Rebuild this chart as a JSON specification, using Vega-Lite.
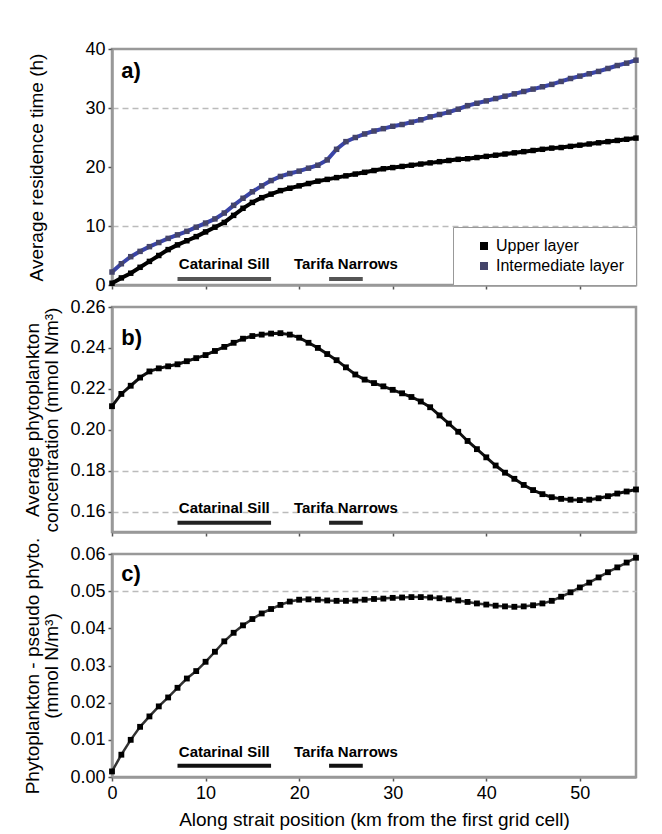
{
  "$schema": "https://vega.github.io/schema/vega-lite/v6.json",
  "background": "white",
  "padding": {"left": 22, "top": 38, "right": 20, "bottom": 4},
  "bounds": "flush",
  "spacing": 22,
  "resolve": {"legend": {"fill": "independent"}},
  "datasets": {
    "a": [
      {"km":0,"layer":"Upper layer","h":0.3},{"km":1,"layer":"Upper layer","h":1.2},{"km":2,"layer":"Upper layer","h":2.0},{"km":3,"layer":"Upper layer","h":3.0},{"km":4,"layer":"Upper layer","h":4.0},{"km":5,"layer":"Upper layer","h":5.0},{"km":6,"layer":"Upper layer","h":6.0},{"km":7,"layer":"Upper layer","h":6.8},{"km":8,"layer":"Upper layer","h":7.5},{"km":9,"layer":"Upper layer","h":8.2},{"km":10,"layer":"Upper layer","h":9.0},{"km":11,"layer":"Upper layer","h":9.8},{"km":12,"layer":"Upper layer","h":10.6},{"km":13,"layer":"Upper layer","h":11.8},{"km":14,"layer":"Upper layer","h":13.0},{"km":15,"layer":"Upper layer","h":14.0},{"km":16,"layer":"Upper layer","h":14.8},{"km":17,"layer":"Upper layer","h":15.4},{"km":18,"layer":"Upper layer","h":16.0},{"km":19,"layer":"Upper layer","h":16.4},{"km":20,"layer":"Upper layer","h":16.8},{"km":21,"layer":"Upper layer","h":17.2},{"km":22,"layer":"Upper layer","h":17.6},{"km":23,"layer":"Upper layer","h":17.9},{"km":24,"layer":"Upper layer","h":18.2},{"km":25,"layer":"Upper layer","h":18.5},{"km":26,"layer":"Upper layer","h":18.8},{"km":27,"layer":"Upper layer","h":19.1},{"km":28,"layer":"Upper layer","h":19.4},{"km":29,"layer":"Upper layer","h":19.7},{"km":30,"layer":"Upper layer","h":19.9},{"km":31,"layer":"Upper layer","h":20.1},{"km":32,"layer":"Upper layer","h":20.3},{"km":33,"layer":"Upper layer","h":20.5},{"km":34,"layer":"Upper layer","h":20.7},{"km":35,"layer":"Upper layer","h":20.9},{"km":36,"layer":"Upper layer","h":21.1},{"km":37,"layer":"Upper layer","h":21.3},{"km":38,"layer":"Upper layer","h":21.4},{"km":39,"layer":"Upper layer","h":21.6},{"km":40,"layer":"Upper layer","h":21.8},{"km":41,"layer":"Upper layer","h":22.0},{"km":42,"layer":"Upper layer","h":22.2},{"km":43,"layer":"Upper layer","h":22.4},{"km":44,"layer":"Upper layer","h":22.6},{"km":45,"layer":"Upper layer","h":22.8},{"km":46,"layer":"Upper layer","h":23.0},{"km":47,"layer":"Upper layer","h":23.2},{"km":48,"layer":"Upper layer","h":23.3},{"km":49,"layer":"Upper layer","h":23.5},{"km":50,"layer":"Upper layer","h":23.7},{"km":51,"layer":"Upper layer","h":23.9},{"km":52,"layer":"Upper layer","h":24.1},{"km":53,"layer":"Upper layer","h":24.3},{"km":54,"layer":"Upper layer","h":24.5},{"km":55,"layer":"Upper layer","h":24.7},{"km":56,"layer":"Upper layer","h":24.9},
      {"km":0,"layer":"Intermediate layer","h":2.2},{"km":1,"layer":"Intermediate layer","h":3.6},{"km":2,"layer":"Intermediate layer","h":4.8},{"km":3,"layer":"Intermediate layer","h":5.7},{"km":4,"layer":"Intermediate layer","h":6.5},{"km":5,"layer":"Intermediate layer","h":7.2},{"km":6,"layer":"Intermediate layer","h":7.9},{"km":7,"layer":"Intermediate layer","h":8.5},{"km":8,"layer":"Intermediate layer","h":9.1},{"km":9,"layer":"Intermediate layer","h":9.8},{"km":10,"layer":"Intermediate layer","h":10.5},{"km":11,"layer":"Intermediate layer","h":11.2},{"km":12,"layer":"Intermediate layer","h":12.2},{"km":13,"layer":"Intermediate layer","h":13.5},{"km":14,"layer":"Intermediate layer","h":14.7},{"km":15,"layer":"Intermediate layer","h":15.8},{"km":16,"layer":"Intermediate layer","h":16.8},{"km":17,"layer":"Intermediate layer","h":17.7},{"km":18,"layer":"Intermediate layer","h":18.4},{"km":19,"layer":"Intermediate layer","h":18.9},{"km":20,"layer":"Intermediate layer","h":19.3},{"km":21,"layer":"Intermediate layer","h":19.8},{"km":22,"layer":"Intermediate layer","h":20.3},{"km":23,"layer":"Intermediate layer","h":21.2},{"km":24,"layer":"Intermediate layer","h":23.0},{"km":25,"layer":"Intermediate layer","h":24.3},{"km":26,"layer":"Intermediate layer","h":25.0},{"km":27,"layer":"Intermediate layer","h":25.6},{"km":28,"layer":"Intermediate layer","h":26.1},{"km":29,"layer":"Intermediate layer","h":26.5},{"km":30,"layer":"Intermediate layer","h":26.9},{"km":31,"layer":"Intermediate layer","h":27.2},{"km":32,"layer":"Intermediate layer","h":27.6},{"km":33,"layer":"Intermediate layer","h":28.0},{"km":34,"layer":"Intermediate layer","h":28.5},{"km":35,"layer":"Intermediate layer","h":28.9},{"km":36,"layer":"Intermediate layer","h":29.3},{"km":37,"layer":"Intermediate layer","h":29.8},{"km":38,"layer":"Intermediate layer","h":30.4},{"km":39,"layer":"Intermediate layer","h":30.8},{"km":40,"layer":"Intermediate layer","h":31.2},{"km":41,"layer":"Intermediate layer","h":31.6},{"km":42,"layer":"Intermediate layer","h":32.0},{"km":43,"layer":"Intermediate layer","h":32.4},{"km":44,"layer":"Intermediate layer","h":32.8},{"km":45,"layer":"Intermediate layer","h":33.2},{"km":46,"layer":"Intermediate layer","h":33.6},{"km":47,"layer":"Intermediate layer","h":34.0},{"km":48,"layer":"Intermediate layer","h":34.5},{"km":49,"layer":"Intermediate layer","h":35.0},{"km":50,"layer":"Intermediate layer","h":35.4},{"km":51,"layer":"Intermediate layer","h":35.8},{"km":52,"layer":"Intermediate layer","h":36.2},{"km":53,"layer":"Intermediate layer","h":36.7},{"km":54,"layer":"Intermediate layer","h":37.2},{"km":55,"layer":"Intermediate layer","h":37.6},{"km":56,"layer":"Intermediate layer","h":38.1}
    ],
    "b": [
      {"km":0,"phyto":0.2115},{"km":1,"phyto":0.2175},{"km":2,"phyto":0.2215},{"km":3,"phyto":0.2255},{"km":4,"phyto":0.2285},{"km":5,"phyto":0.2300},{"km":6,"phyto":0.2310},{"km":7,"phyto":0.2320},{"km":8,"phyto":0.2335},{"km":9,"phyto":0.2350},{"km":10,"phyto":0.2365},{"km":11,"phyto":0.2385},{"km":12,"phyto":0.2405},{"km":13,"phyto":0.2425},{"km":14,"phyto":0.2445},{"km":15,"phyto":0.2458},{"km":16,"phyto":0.2465},{"km":17,"phyto":0.2470},{"km":18,"phyto":0.2472},{"km":19,"phyto":0.2465},{"km":20,"phyto":0.2450},{"km":21,"phyto":0.2425},{"km":22,"phyto":0.2400},{"km":23,"phyto":0.2370},{"km":24,"phyto":0.2340},{"km":25,"phyto":0.2305},{"km":26,"phyto":0.2270},{"km":27,"phyto":0.2245},{"km":28,"phyto":0.2228},{"km":29,"phyto":0.2212},{"km":30,"phyto":0.2195},{"km":31,"phyto":0.2178},{"km":32,"phyto":0.2160},{"km":33,"phyto":0.2138},{"km":34,"phyto":0.2110},{"km":35,"phyto":0.2070},{"km":36,"phyto":0.2030},{"km":37,"phyto":0.1990},{"km":38,"phyto":0.1945},{"km":39,"phyto":0.1905},{"km":40,"phyto":0.1865},{"km":41,"phyto":0.1825},{"km":42,"phyto":0.1790},{"km":43,"phyto":0.1760},{"km":44,"phyto":0.1730},{"km":45,"phyto":0.1705},{"km":46,"phyto":0.1685},{"km":47,"phyto":0.1670},{"km":48,"phyto":0.1662},{"km":49,"phyto":0.1658},{"km":50,"phyto":0.1656},{"km":51,"phyto":0.1658},{"km":52,"phyto":0.1665},{"km":53,"phyto":0.1675},{"km":54,"phyto":0.1688},{"km":55,"phyto":0.1698},{"km":56,"phyto":0.1708}
    ],
    "c": [
      {"km":0,"diff":0.0015},{"km":1,"diff":0.0060},{"km":2,"diff":0.0100},{"km":3,"diff":0.0135},{"km":4,"diff":0.0163},{"km":5,"diff":0.0190},{"km":6,"diff":0.0214},{"km":7,"diff":0.0240},{"km":8,"diff":0.0265},{"km":9,"diff":0.0285},{"km":10,"diff":0.0310},{"km":11,"diff":0.0337},{"km":12,"diff":0.0365},{"km":13,"diff":0.0388},{"km":14,"diff":0.0408},{"km":15,"diff":0.0425},{"km":16,"diff":0.0440},{"km":17,"diff":0.0452},{"km":18,"diff":0.0463},{"km":19,"diff":0.0472},{"km":20,"diff":0.0477},{"km":21,"diff":0.0478},{"km":22,"diff":0.0477},{"km":23,"diff":0.0475},{"km":24,"diff":0.0474},{"km":25,"diff":0.0474},{"km":26,"diff":0.0475},{"km":27,"diff":0.0477},{"km":28,"diff":0.0479},{"km":29,"diff":0.0480},{"km":30,"diff":0.0482},{"km":31,"diff":0.0483},{"km":32,"diff":0.0484},{"km":33,"diff":0.0484},{"km":34,"diff":0.0483},{"km":35,"diff":0.0481},{"km":36,"diff":0.0478},{"km":37,"diff":0.0475},{"km":38,"diff":0.0471},{"km":39,"diff":0.0467},{"km":40,"diff":0.0464},{"km":41,"diff":0.0461},{"km":42,"diff":0.0459},{"km":43,"diff":0.0458},{"km":44,"diff":0.0459},{"km":45,"diff":0.0462},{"km":46,"diff":0.0467},{"km":47,"diff":0.0474},{"km":48,"diff":0.0485},{"km":49,"diff":0.0497},{"km":50,"diff":0.0510},{"km":51,"diff":0.0523},{"km":52,"diff":0.0537},{"km":53,"diff":0.0551},{"km":54,"diff":0.0564},{"km":55,"diff":0.0577},{"km":56,"diff":0.0590}
    ],
    "features": [
      {"feature":"Catarinal Sill","start":7,"end":17,"mid":12},
      {"feature":"Tarifa Narrows","start":23.2,"end":26.8,"mid":25}
    ]
  },
  "vconcat": [
    {
      "width": 524, "height": 236,
      "layer": [
        {
          "data": {"name": "a"},
          "transform": [{"filter": "datum.layer == 'Intermediate layer'"}],
          "mark": {"type": "line", "strokeWidth": 4, "color": "#3a44a8"},
          "encoding": {
            "x": {"field": "km", "type": "quantitative", "scale": {"domain": [0, 56], "nice": false, "zero": false},
                  "axis": {"values": [0,10,20,30,40,50], "tickCount": 10, "labels": false, "title": null, "grid": false}},
            "y": {"field": "h", "type": "quantitative", "scale": {"domain": [0, 40], "nice": false},
                  "axis": {"values": [0,10,20,30,40], "tickCount": 10, "title": "Average residence time (h)", "titlePadding": 38, "grid": true,
                           "gridOpacity": {"condition": {"test": "datum.value == 10 || datum.value == 30", "value": 1}, "value": 0}}}
          }
        },
        {
          "data": {"name": "a"},
          "transform": [{"filter": "datum.layer == 'Upper layer'"}],
          "mark": {"type": "line", "strokeWidth": 4, "color": "#000"},
          "encoding": {
            "x": {"field": "km", "type": "quantitative"},
            "y": {"field": "h", "type": "quantitative"}
          }
        },
        {
          "data": {"name": "a"},
          "mark": {"type": "point", "shape": "square", "filled": true, "size": 30, "opacity": 1},
          "encoding": {
            "x": {"field": "km", "type": "quantitative"},
            "y": {"field": "h", "type": "quantitative"},
            "fill": {"field": "layer", "type": "nominal", "scale": {"domain": ["Upper layer", "Intermediate layer"], "range": ["#000000", "#44446a"]},
                     "legend": {"title": null, "orient": "bottom-right", "offset": 0, "symbolType": "square", "symbolSize": 64,
                                "labelFontSize": 16, "labelFont": "Liberation Sans", "labelColor": "black", "padding": 11, "symbolOffset": 12,
                                "rowPadding": 4, "strokeColor": "#999", "fillColor": "white", "labelOffset": 4}}
          }
        },
        {
          "data": {"name": "features"},
          "mark": {"type": "rule", "strokeWidth": 4, "color": "#555"},
          "encoding": {
            "x": {"field": "start", "type": "quantitative"},
            "x2": {"field": "end"},
            "y": {"datum": 1.0}
          }
        },
        {
          "data": {"name": "features"},
          "mark": {"type": "text", "fontWeight": "bold", "fontSize": 15, "baseline": "middle", "align": "center", "font": "Liberation Sans"},
          "encoding": {
            "x": {"field": "mid", "type": "quantitative"},
            "y": {"datum": 3.6},
            "text": {"field": "feature"}
          }
        },
        {
          "data": {"values": [{"panel": "a)"}]},
          "mark": {"type": "text", "fontWeight": "bold", "fontSize": 22, "align": "left", "baseline": "middle", "font": "Liberation Sans"},
          "encoding": {
            "x": {"datum": 1.0},
            "y": {"datum": 36.2},
            "text": {"field": "panel"}
          }
        }
      ]
    },
    {
      "width": 524, "height": 225,
      "layer": [
        {
          "data": {"name": "b"},
          "mark": {"type": "line", "strokeWidth": 3, "color": "#111"},
          "encoding": {
            "x": {"field": "km", "type": "quantitative", "scale": {"domain": [0, 56], "nice": false, "zero": false},
                  "axis": {"values": [0,10,20,30,40,50], "tickCount": 10, "labels": false, "title": null, "grid": false}},
            "y": {"field": "phyto", "type": "quantitative", "scale": {"domain": [0.15, 0.26], "nice": false, "zero": false},
                  "axis": {"values": [0.16,0.18,0.20,0.22,0.24,0.26], "tickCount": 10, "format": ".2f", "labelOverlap": false, "title": ["Average phytoplankton", "concentration (mmol N/m³)"], "titlePadding": 8, "titleLineHeight": 19, "grid": true,
                           "gridOpacity": {"condition": {"test": "abs(datum.value - 0.16) < 0.001 || abs(datum.value - 0.18) < 0.001", "value": 1}, "value": 0}}}
          }
        },
        {
          "data": {"name": "b"},
          "mark": {"type": "point", "shape": "square", "filled": true, "size": 34, "opacity": 1, "color": "#000"},
          "encoding": {
            "x": {"field": "km", "type": "quantitative"},
            "y": {"field": "phyto", "type": "quantitative"}
          }
        },
        {
          "data": {"name": "features"},
          "mark": {"type": "rule", "strokeWidth": 4, "color": "#222"},
          "encoding": {
            "x": {"field": "start", "type": "quantitative"},
            "x2": {"field": "end"},
            "y": {"datum": 0.1545}
          }
        },
        {
          "data": {"name": "features"},
          "mark": {"type": "text", "fontWeight": "bold", "fontSize": 15, "baseline": "middle", "align": "center", "font": "Liberation Sans"},
          "encoding": {
            "x": {"field": "mid", "type": "quantitative"},
            "y": {"datum": 0.1617},
            "text": {"field": "feature"}
          }
        },
        {
          "data": {"values": [{"panel": "b)"}]},
          "mark": {"type": "text", "fontWeight": "bold", "fontSize": 22, "align": "left", "baseline": "middle", "font": "Liberation Sans"},
          "encoding": {
            "x": {"datum": 1.0},
            "y": {"datum": 0.2447},
            "text": {"field": "panel"}
          }
        }
      ]
    },
    {
      "width": 524, "height": 223,
      "layer": [
        {
          "data": {"name": "c"},
          "mark": {"type": "line", "strokeWidth": 2.5, "color": "#333"},
          "encoding": {
            "x": {"field": "km", "type": "quantitative", "scale": {"domain": [0, 56], "nice": false, "zero": false},
                  "axis": {"values": [0,10,20,30,40,50], "tickCount": 10, "title": "Along strait position (km from the first grid cell)", "labelPadding": 3, "titlePadding": 8, "grid": false}},
            "y": {"field": "diff", "type": "quantitative", "scale": {"domain": [0, 0.06], "nice": false},
                  "axis": {"values": [0,0.01,0.02,0.03,0.04,0.05,0.06], "tickCount": 10, "format": ".2f", "labelOverlap": false, "title": ["Phytoplankton - pseudo phyto.", "(mmol N/m³)"], "titlePadding": 8, "titleLineHeight": 19, "grid": true,
                           "gridOpacity": {"condition": {"test": "abs(datum.value - 0.05) < 0.0001", "value": 1}, "value": 0}}}
          }
        },
        {
          "data": {"name": "c"},
          "mark": {"type": "point", "shape": "square", "filled": true, "size": 34, "opacity": 1, "color": "#000"},
          "encoding": {
            "x": {"field": "km", "type": "quantitative"},
            "y": {"field": "diff", "type": "quantitative"}
          }
        },
        {
          "data": {"name": "features"},
          "mark": {"type": "rule", "strokeWidth": 4, "color": "#111"},
          "encoding": {
            "x": {"field": "start", "type": "quantitative"},
            "x2": {"field": "end"},
            "y": {"datum": 0.003}
          }
        },
        {
          "data": {"name": "features"},
          "mark": {"type": "text", "fontWeight": "bold", "fontSize": 15, "baseline": "middle", "align": "center", "font": "Liberation Sans"},
          "encoding": {
            "x": {"field": "mid", "type": "quantitative"},
            "y": {"datum": 0.0067},
            "text": {"field": "feature"}
          }
        },
        {
          "data": {"values": [{"panel": "c)"}]},
          "mark": {"type": "text", "fontWeight": "bold", "fontSize": 22, "align": "left", "baseline": "middle", "font": "Liberation Sans"},
          "encoding": {
            "x": {"datum": 1.0},
            "y": {"datum": 0.0546},
            "text": {"field": "panel"}
          }
        }
      ]
    }
  ],
  "config": {
    "font": "Liberation Sans",
    "view": {"stroke": "#999", "strokeWidth": 2.5},
    "axis": {
      "domainColor": "#999", "domainWidth": 2.5,
      "tickColor": "#555", "tickSize": 4, "tickWidth": 1.5,
      "labelFont": "Liberation Sans", "labelFontSize": 18, "labelColor": "#000", "labelPadding": 3, "labelFlush": false,
      "titleFont": "Liberation Sans", "titleFontSize": 19, "titleFontWeight": "normal", "titleColor": "#000",
      "gridColor": "#bbb", "gridDash": [6, 4], "gridWidth": 1.5
    }
  }
}
